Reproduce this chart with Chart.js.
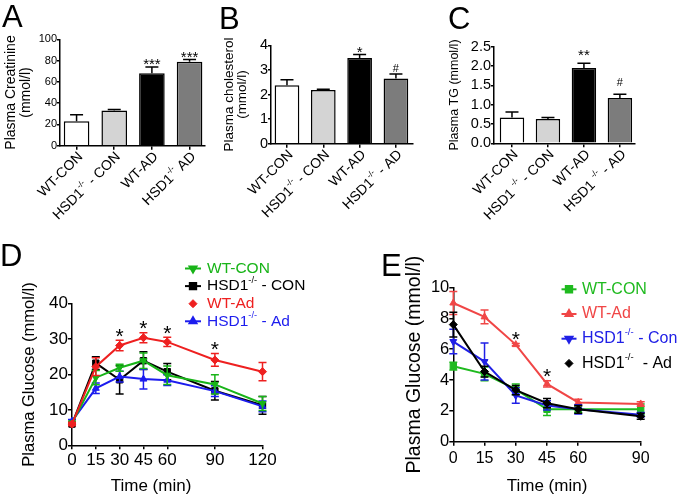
<!DOCTYPE html>
<html>
<head>
<meta charset="utf-8">
<title>Plasma parameters and glucose tolerance</title>
<script src="https://cdn.jsdelivr.net/npm/chart.js@4.4.1/dist/chart.umd.min.js"></script>
<style>
  body { margin: 0; width: 680px; height: 499px; background: #fff; position: relative; overflow: hidden;
         font-family: "Liberation Sans", Arial, sans-serif; }
  canvas { position: absolute; left: 0; top: 0; }
  .tag { position: absolute; font-size: 31px; line-height: 1; color: #000; }
</style>
</head>
<body>
<canvas id="chartA" width="680" height="499"></canvas>
<canvas id="chartB" width="680" height="499"></canvas>
<canvas id="chartC" width="680" height="499"></canvas>
<canvas id="chartD" width="680" height="499"></canvas>
<canvas id="chartE" width="680" height="499"></canvas>
<div class="tag" style="left:2px;top:1px">A</div>
<div class="tag" style="left:219px;top:3px">B</div>
<div class="tag" style="left:448px;top:3px">C</div>
<div class="tag" style="left:0px;top:240px">D</div>
<div class="tag" style="left:381px;top:250px">E</div>
<script>
// ======= BAR PANELS (A, B, C) =======
// "^...^" marks a superscript part of a label
const groupsA = ["WT-CON", "HSD1^-/-^ - CON", "WT-AD", "HSD1^-/-^ AD"];
const groupsB = ["WT-CON", "HSD1^-/-^ - CON", "WT-AD", "HSD1^-/-^ - AD"];
const groupsC = ["WT-CON", "HSD1 ^-/-^ - CON", "WT-AD", "HSD1 ^-/-^ - AD"];
const barFills = ["#ffffff", "#d4d4d4", "#000000", "#7c7c7c"];

const creatinine = [23, 33, 68, 79];
const creatinineSem = [6, 1, 6, 2];
const creatinineSig = ["", "", "***", "***"];
const ticksA = [0, 20, 40, 60, 80, 100];

const cholesterol = [2.38, 2.18, 3.48, 2.65];
const cholesterolSem = [0.22, 0.03, 0.15, 0.18];
const cholesterolSig = ["", "", "*", "#"];
const ticksB = [0, 1, 2, 3, 4];

const triglyc = [0.67, 0.63, 1.95, 1.17];
const triglycSem = [0.14, 0.04, 0.12, 0.10];
const triglycSig = ["", "", "**", "#"];
const ticksC = [0, 0.5, 1, 1.5, 2, 2.5];

// ======= GLUCOSE TOLERANCE (D) =======
const timeD = [0, 15, 30, 45, 60, 90, 120];
const dWtCon = [6.3, 19.1, 21.9, 23.9, 19.8, 17.2, 11.8];
const dWtConSem = [0.5, 2, 1, 2.2, 2.6, 2.7, 2];
const dKoCon = [6.0, 23.2, 18.5, 23.9, 20.8, 15.4, 11.3];
const dKoConSem = [0.5, 1.8, 4, 2.5, 2.3, 2.6, 2.5];
const dWtAd = [6.0, 22.2, 28.2, 30.4, 29.2, 24.1, 20.8];
const dWtAdSem = [0.5, 2.5, 1.5, 1.4, 1.3, 1.8, 2.6];
const dKoAd = [6.8, 16.1, 19.4, 18.7, 18.4, 15.3, 11.0];
const dKoAdSem = [0.5, 1.5, 1.5, 2.8, 1.5, 1.5, 1.5];
const dSig = ["", "", "*", "*", "*", "*", ""];
const ticksD = [0, 10, 20, 30, 40];

// ======= INSULIN TOLERANCE (E) =======
const timeE = [0, 15, 30, 45, 60, 90];
const eWtCon = [4.9, 4.4, 3.4, 2.1, 2.1, 2.1];
const eWtConSem = [0.25, 0.45, 0.35, 0.4, 0.2, 0.35];
const eWtAd = [9.0, 8.1, 6.3, 3.75, 2.55, 2.45];
const eWtAdSem = [0.75, 0.45, 0.08, 0.2, 0.2, 0.15];
const eKoCon = [6.5, 5.2, 3.0, 2.35, 2.1, 1.75];
const eKoConSem = [0.8, 1.2, 0.5, 0.3, 0.3, 0.15];
const eKoAd = [7.6, 4.55, 3.35, 2.5, 2.1, 1.65];
const eKoAdSem = [0.8, 0.35, 0.3, 0.3, 0.25, 0.2];
const eSig = ["", "", "*", "*", "", ""];
const ticksE = [0, 2, 4, 6, 8, 10];

// ======= GENERAL SETTINGS =======
const FAM = '"Liberation Sans", Arial, sans-serif';
Chart.defaults.font.family = FAM;
Chart.defaults.color = "#000";
Chart.defaults.animation = false;
Chart.defaults.events = [];
Chart.defaults.plugins.legend.display = false;
Chart.defaults.plugins.tooltip.enabled = false;

// text with superscript parts
function richWidth(ctx, text, size) {
  let w = 0;
  text.split("^").forEach((p, i) => {
    ctx.font = `${i % 2 ? size * 0.6 : size}px ${FAM}`;
    w += ctx.measureText(p).width;
  });
  return w;
}
function drawRich(ctx, text, x, y, size, alignRight) {
  let cx = alignRight ? x - richWidth(ctx, text, size) : x;
  ctx.textAlign = "left";
  ctx.textBaseline = "middle";
  text.split("^").forEach((p, i) => {
    const sup = i % 2 === 1;
    ctx.font = `${sup ? size * 0.6 : size}px ${FAM}`;
    ctx.fillText(p, cx, sup ? y - size * 0.38 : y);
    cx += ctx.measureText(p).width;
  });
}

// ======= PLUGINS =======
const errorBars = {
  id: "errorBars",
  beforeDatasetDraw(chart, args) {
    const ds = chart.data.datasets[args.index];
    if (!ds.sem) return;
    const y = chart.scales.y, ctx = chart.ctx, cap = ds.capHalf || 4;
    ctx.save();
    ctx.strokeStyle = ds.semColor || ds.borderColor;
    ctx.lineWidth = 1.5;
    args.meta.data.forEach((el, i) => {
      const v = ds.data[i].y, e = ds.sem[i];
      const top = y.getPixelForValue(v + e);
      const bot = y.getPixelForValue(ds.semUpOnly ? v : v - e);
      ctx.beginPath();
      ctx.moveTo(el.x, bot); ctx.lineTo(el.x, top);
      ctx.moveTo(el.x - cap, top); ctx.lineTo(el.x + cap, top);
      if (!ds.semUpOnly) { ctx.moveTo(el.x - cap, bot); ctx.lineTo(el.x + cap, bot); }
      ctx.stroke();
    });
    ctx.restore();
  }
};

const sigMarks = {
  id: "sigMarks",
  afterDatasetsDraw(chart, args, opts) {
    const ctx = chart.ctx, y = chart.scales.y;
    chart.data.datasets.forEach((ds, di) => {
      if (!ds.sig) return;
      const meta = chart.getDatasetMeta(di);
      ds.sig.forEach((s, i) => {
        if (!s) return;
        const hash = s === "#";
        const size = hash ? opts.hashSize : opts.size;
        const yc = y.getPixelForValue(ds.data[i].y + ds.sem[i]) - opts.gap;
        ctx.save();
        ctx.font = `${size}px ${FAM}`;
        ctx.fillStyle = "#000";
        ctx.textAlign = "center";
        ctx.textBaseline = "alphabetic";
        ctx.fillText(s, meta.data[i].x, yc + size * (hash ? 0.36 : 0.58));
        ctx.restore();
      });
    });
  }
};

const slantLabels = {
  id: "slantLabels",
  afterDraw(chart, args, opts) {
    const ctx = chart.ctx, x = chart.scales.x, base = chart.chartArea.bottom;
    opts.labels.forEach((lab, i) => {
      ctx.save();
      ctx.fillStyle = "#000";
      ctx.translate(x.getPixelForValue(i) + opts.dx, base + opts.dy);
      ctx.rotate(-Math.PI / 4);
      drawRich(ctx, lab, 0, 0, opts.size, true);
      ctx.restore();
    });
  }
};

const sideLegend = {
  id: "sideLegend",
  afterDraw(chart, args, opts) {
    const ctx = chart.ctx;
    chart.data.datasets.forEach((ds, i) => {
      const yy = opts.y + i * opts.step;
      ctx.save();
      ctx.strokeStyle = ds.borderColor;
      ctx.fillStyle = ds.borderColor;
      if (ds.legendLine !== false) {
        ctx.lineWidth = ds.borderWidth;
        ctx.beginPath();
        ctx.moveTo(opts.x - opts.lineHalf, yy);
        ctx.lineTo(opts.x + opts.lineHalf, yy);
        ctx.stroke();
      }
      Chart.helpers.drawPoint(ctx, {
        pointStyle: ds.pointStyle, rotation: ds.pointRotation || 0,
        radius: ds.pointRadius, borderWidth: 1
      }, opts.x, yy);
      ctx.fillStyle = ds.textColor || ds.borderColor;
      drawRich(ctx, ds.label, opts.x + opts.gap, yy, opts.size, false);
      ctx.restore();
    });
  }
};

const freeText = {
  id: "freeText",
  afterDraw(chart, args, opts) {
    const ctx = chart.ctx, a = chart.chartArea;
    (opts.items || []).forEach(t => {
      ctx.save();
      ctx.font = `${t.size}px ${FAM}`;
      ctx.fillStyle = "#000";
      ctx.textAlign = "center";
      ctx.textBaseline = "middle";
      ctx.fillText(t.text, a.left + t.dx, a.bottom + t.dy);
      ctx.restore();
    });
  }
};

// ======= SCALE HELPERS =======
const setTicks = list => scale => { scale.ticks = list.map(v => ({ value: v })); };

function yScale(ticks, tickSize, fmt, width, title, tickLen) {
  return {
    min: ticks[0], max: ticks[ticks.length - 1],
    afterBuildTicks: setTicks(ticks),
    afterFit: s => { s.width = width; },
    border: { color: "#000", width: 1.5 },
    grid: { drawOnChartArea: false, tickLength: tickLen, color: "#000", lineWidth: 1.5 },
    ticks: { font: { size: tickSize }, padding: 0, autoSkip: false, callback: v => fmt(v) },
    title: {
      display: true, text: title.text, color: "#000",
      font: { size: title.size, lineHeight: title.lh },
      padding: { top: title.pad, bottom: 0 }
    }
  };
}

function xBarScale(groups, min, max) {
  return {
    type: "linear", min, max, offset: false,
    afterBuildTicks: setTicks(groups.map((_, i) => i)),
    afterFit: s => { s.height = 30; },
    border: { color: "#000", width: 1.5 },
    grid: { offset: false, drawOnChartArea: false, tickLength: 4, color: "#000", lineWidth: 1.5 },
    ticks: { callback: () => "" }
  };
}

function xTimeScale(times, height, tickSize, tickPad, title) {
  return {
    type: "linear", min: times[0], max: times[times.length - 1],
    afterBuildTicks: setTicks(times),
    afterFit: s => { s.height = height; },
    border: { color: "#000", width: 1.5 },
    grid: { drawOnChartArea: false, tickLength: 4, color: "#000", lineWidth: 1.5 },
    ticks: { font: { size: tickSize }, padding: tickPad, maxRotation: 0, autoSkip: false },
    title: title ? { display: true, text: title, color: "#000", font: { size: 17 }, padding: { top: 0, bottom: 2 } }
                 : { display: false }
  };
}

function barSet(values, sem, sig) {
  return {
    data: values.map((v, i) => ({ x: i, y: v })),
    backgroundColor: barFills,
    borderColor: "#000",
    borderWidth: 1.5,
    categoryPercentage: 1,
    barPercentage: 0.68,
    sem, sig, semUpOnly: true, capHalf: 6.5, semColor: "#000"
  };
}

function lineSet(label, times, values, sem, color, style, rotation, order, extra) {
  return Object.assign({
    label,
    data: values.map((v, i) => ({ x: times[i], y: v })),
    sem,
    borderColor: color,
    backgroundColor: color,
    borderWidth: 2,
    pointStyle: style,
    pointRotation: rotation,
    pointRadius: 4,
    pointBorderWidth: 1,
    capHalf: 4,
    tension: 0,
    clip: false,
    order
  }, extra || {});
}

// ======= PANEL A =======
new Chart(document.getElementById("chartA"), {
  type: "bar",
  data: { datasets: [barSet(creatinine, creatinineSem, creatinineSig)] },
  options: {
    responsive: false,
    layout: { padding: { left: 0, top: 39.3, right: 475, bottom: 323.3 } },
    scales: {
      x: xBarScale(groupsA, -0.44, 3.41),
      y: yScale(ticksA, 11, v => v, 60, { text: ["Plasma Creatinine", "(mmol/l)"], size: 14, lh: 1.07, pad: 3.5 }, 3)
    },
    plugins: {
      sigMarks: { gap: 6.5, size: 15, hashSize: 11 },
      slantLabels: { labels: groupsA, size: 14, dx: 4, dy: 9 }
    }
  },
  plugins: [errorBars, sigMarks, slantLabels]
});

// ======= PANEL B =======
new Chart(document.getElementById("chartB"), {
  type: "bar",
  data: { datasets: [barSet(cholesterol, cholesterolSem, cholesterolSig)] },
  options: {
    responsive: false,
    layout: { padding: { left: 218, top: 45.3, right: 267, bottom: 325.3 } },
    scales: {
      x: xBarScale(groupsB, -0.44, 3.47),
      y: yScale(ticksB, 14.5, v => v, 53, { text: ["Plasma cholesterol", "(mmol/l)"], size: 13.5, lh: 0.96, pad: 4.5 }, 3)
    },
    plugins: {
      sigMarks: { gap: 6, size: 15, hashSize: 11 },
      slantLabels: { labels: groupsB, size: 14, dx: 4, dy: 9 }
    }
  },
  plugins: [errorBars, sigMarks, slantLabels]
});

// ======= PANEL C =======
new Chart(document.getElementById("chartC"), {
  type: "bar",
  data: { datasets: [barSet(triglyc, triglycSem, triglycSig)] },
  options: {
    responsive: false,
    layout: { padding: { left: 445, top: 46.7, right: 45, bottom: 325.7 } },
    scales: {
      x: xBarScale(groupsC, -0.5, 3.42),
      y: yScale(ticksC, 14.5, v => v.toFixed(1), 49, { text: "Plasma TG (mmol/l)", size: 12.5, lh: 1.2, pad: 2 }, 3)
    },
    plugins: {
      sigMarks: { gap: 12.5, size: 15, hashSize: 11 },
      slantLabels: { labels: groupsC, size: 14, dx: 4, dy: 9 }
    }
  },
  plugins: [errorBars, sigMarks, slantLabels]
});

// ======= PANEL D =======
new Chart(document.getElementById("chartD"), {
  type: "line",
  data: {
    datasets: [
      lineSet("WT-CON", timeD, dWtCon, dWtConSem, "#18b418", "triangle", 180, 1),
      lineSet("HSD1^-/-^ - CON", timeD, dKoCon, dKoConSem, "#000000", "rect", 0, 3, { pointRadius: 4.5 }),
      lineSet("WT-Ad", timeD, dWtAd, dWtAdSem, "#ee2020", "rectRot", 0, 0, { sig: dSig, legendLine: false }),
      lineSet("HSD1^-/-^ - Ad", timeD, dKoAd, dKoAdSem, "#1c1cee", "triangle", 0, 2)
    ]
  },
  options: {
    responsive: false,
    layout: { padding: { left: 0, top: 303.7, right: 417.5, bottom: 0 } },
    scales: {
      x: xTimeScale(timeD, 53.7, 17, 1, null),
      y: yScale(ticksD, 17, v => v, 72, { text: "Plasma Glucose (mmol/l)", size: 16.5, lh: 1.2, pad: 20 }, 4)
    },
    plugins: {
      sigMarks: { gap: 9.5, size: 21, hashSize: 14 },
      sideLegend: { x: 193, y: 268.5, step: 17.6, lineHalf: 8, gap: 14, size: 15.5 },
      freeText: { items: [{ text: "Time (min)", size: 17, dx: 79, dy: 41.4 }] }
    }
  },
  plugins: [errorBars, sigMarks, sideLegend, freeText]
});

// ======= PANEL E =======
new Chart(document.getElementById("chartE"), {
  type: "line",
  data: {
    datasets: [
      lineSet("WT-CON", timeE, eWtCon, eWtConSem, "#1fba1f", "rect", 0, 3, { pointRadius: 4.5 }),
      lineSet("WT-Ad", timeE, eWtAd, eWtAdSem, "#f04646", "triangle", 0, 2, { sig: eSig }),
      lineSet("HSD1^-/-^ - Con", timeE, eKoCon, eKoConSem, "#2020e6", "triangle", 180, 1),
      lineSet("HSD1^-/-^  - Ad", timeE, eKoAd, eKoAdSem, "#000000", "rectRot", 0, 0, { legendLine: false })
    ]
  },
  options: {
    responsive: false,
    layout: { padding: { left: 402.3, top: 287.6, right: 39.3, bottom: 0 } },
    scales: {
      x: xTimeScale(timeE, 57.3, 16, 3, "Time (min)"),
      y: yScale(ticksE, 16.5, v => v, 51, { text: "Plasma Glucose (mmol/l)", size: 19.5, lh: 1.2, pad: 1 }, 4)
    },
    plugins: {
      sigMarks: { gap: 10, size: 21, hashSize: 14 },
      sideLegend: { x: 569, y: 289.3, step: 24.7, lineHalf: 7.5, gap: 13, size: 16 }
    }
  },
  plugins: [errorBars, sigMarks, sideLegend]
});
</script>
</body>
</html>
